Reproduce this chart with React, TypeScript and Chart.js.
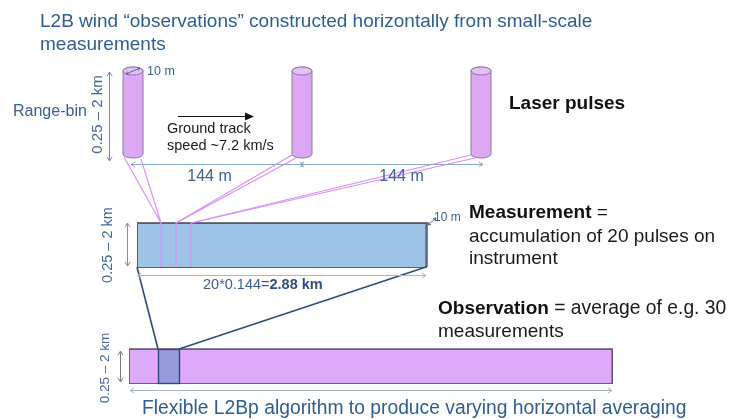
import React, { useEffect, useRef } from "react";
import { Chart, registerables } from "chart.js";

Chart.register(...registerables);

const W = 747;
const H = 419;

// ---- diagram values (layout units) ----
const pulseCenters = [133, 302, 481];
const pulseTopBottom = [67, 158];
const pulseWidth = 20;
const spacingLabels = ["144 m", "144 m"];
const spacingLabelShift = [-8, 10];
const measurementX = [137, 426];
const measurementY = [223, 267];
const pulseLanding = [161, 176, 191];
const observationX = [129, 612];
const observationY = [349, 383];
const observationMark = [158, 179];

const titleLines = [
  "L2B wind \u201cobservations\u201d constructed horizontally from small-scale",
  "measurements",
];
const rangeLabel = "0.25 \u2013 2 km";
const bottomText = "Flexible L2Bp algorithm to produce varying horizontal averaging";

const FONT = "'Liberation Sans', Arial, sans-serif";
const BLUE_TEXT = "#2f5e8e";
const PINK = "#d990f4";
const DARK_BLUE = "#2c4c7c";

type Pt = { x: number; y: number };

function seg(a: Pt, b: Pt, color: string, width: number) {
  return {
    data: [a, b],
    showLine: true,
    borderColor: color,
    borderWidth: width,
    pointRadius: 0,
    fill: false,
  };
}

function buildDatasets() {
  const ds: any[] = [];
  const bottom = pulseTopBottom[1];
  pulseCenters.forEach((cx, i) => {
    const land = { x: pulseLanding[i], y: measurementY[0] };
    if (i === 0) {
      ds.push(seg({ x: cx - pulseWidth / 2 + 1, y: bottom - 1 }, land, PINK, 1.2));
      ds.push(seg({ x: cx + pulseWidth / 2 - 2, y: bottom + 1 }, land, PINK, 1.2));
    } else {
      ds.push(seg({ x: cx - pulseWidth / 2, y: bottom - 3 }, land, PINK, 1.2));
      ds.push(seg({ x: cx - pulseWidth / 2 + 4, y: bottom }, land, PINK, 1.2));
    }
    ds.push(seg(land, { x: pulseLanding[i], y: measurementY[1] }, PINK, 1.2));
  });
  ds.push(
    seg({ x: measurementX[0], y: measurementY[1] }, { x: observationMark[0], y: observationY[0] }, DARK_BLUE, 1.6)
  );
  ds.push(
    seg({ x: measurementX[1], y: measurementY[1] }, { x: observationMark[1], y: observationY[0] }, DARK_BLUE, 1.6)
  );
  return ds;
}

function arrowHead(ctx: CanvasRenderingContext2D, x: number, y: number, ang: number, size: number) {
  ctx.beginPath();
  ctx.moveTo(x - size * Math.cos(ang - 0.55), y - size * Math.sin(ang - 0.55));
  ctx.lineTo(x, y);
  ctx.lineTo(x - size * Math.cos(ang + 0.55), y - size * Math.sin(ang + 0.55));
  ctx.stroke();
}

function arrow(
  ctx: CanvasRenderingContext2D,
  x1: number,
  y1: number,
  x2: number,
  y2: number,
  color: string,
  width: number,
  both: boolean,
  size = 5
) {
  ctx.save();
  ctx.strokeStyle = color;
  ctx.lineWidth = width;
  ctx.beginPath();
  ctx.moveTo(x1, y1);
  ctx.lineTo(x2, y2);
  ctx.stroke();
  const ang = Math.atan2(y2 - y1, x2 - x1);
  if (size > 0) arrowHead(ctx, x2, y2, ang, size);
  if (both && size > 0) arrowHead(ctx, x1, y1, ang + Math.PI, size);
  ctx.restore();
}

function text(
  ctx: CanvasRenderingContext2D,
  s: string,
  x: number,
  y: number,
  size: number,
  color: string,
  opts: { bold?: boolean; align?: CanvasTextAlign; rotate?: boolean; baseline?: CanvasTextBaseline } = {}
) {
  ctx.save();
  ctx.font = `${opts.bold ? "bold " : ""}${size}px ${FONT}`;
  ctx.fillStyle = color;
  ctx.textAlign = opts.align || "left";
  ctx.textBaseline = opts.baseline || "middle";
  if (opts.rotate) {
    ctx.translate(x, y);
    ctx.rotate(-Math.PI / 2);
    ctx.fillText(s, 0, 0);
  } else {
    ctx.fillText(s, x, y);
  }
  const w = ctx.measureText(s).width;
  ctx.restore();
  return w;
}

const diagramPlugin = {
  id: "diagram",
  beforeDatasetsDraw(chart: any) {
    const ctx: CanvasRenderingContext2D = chart.ctx;
    const sx = chart.scales.x;
    const sy = chart.scales.y;
    const px = (v: number) => sx.getPixelForValue(v);
    const py = (v: number) => sy.getPixelForValue(v);

    // cylinders (laser pulses)
    pulseCenters.forEach((c) => {
      const cx = px(c);
      const top = py(pulseTopBottom[0]);
      const bot = py(pulseTopBottom[1]);
      const rx = (px(c + pulseWidth / 2) - px(c - pulseWidth / 2)) / 2;
      const ry = 4;
      ctx.save();
      ctx.beginPath();
      ctx.moveTo(cx - rx, top + ry);
      ctx.lineTo(cx - rx, bot - ry);
      ctx.ellipse(cx, bot - ry, rx, ry, 0, Math.PI, 0, true);
      ctx.lineTo(cx + rx, top + ry);
      ctx.ellipse(cx, top + ry, rx, ry, 0, 0, Math.PI, true);
      ctx.closePath();
      ctx.fillStyle = "#dca8f5";
      ctx.fill();
      ctx.strokeStyle = "#8c7a98";
      ctx.lineWidth = 1;
      ctx.stroke();
      ctx.beginPath();
      ctx.ellipse(cx, top + ry, rx, ry, 0, 0, Math.PI * 2);
      ctx.fillStyle = "#e6bff8";
      ctx.fill();
      ctx.stroke();
      ctx.restore();
    });

    // measurement box
    {
      const x0 = px(measurementX[0]);
      const x1 = px(measurementX[1]);
      const y0 = py(measurementY[0]);
      const y1 = py(measurementY[1]);
      ctx.save();
      ctx.fillStyle = "#9dc3e6";
      ctx.fillRect(x0, y0, x1 - x0, y1 - y0);
      ctx.fillStyle = "#7b8794";
      ctx.fillRect(x1 - 1, y0, 3, y1 - y0);
      ctx.fillStyle = "#6d7580";
      ctx.fillRect(x0, y0 - 1, x1 - x0 + 2, 2);
      ctx.strokeStyle = "#55606c";
      ctx.lineWidth = 1;
      ctx.strokeRect(x0 + 0.5, y0 + 0.5, x1 - x0, y1 - y0);
      ctx.restore();
    }

    // observation bar
    {
      const x0 = px(observationX[0]);
      const x1 = px(observationX[1]);
      const y0 = py(observationY[0]);
      const y1 = py(observationY[1]);
      ctx.save();
      ctx.fillStyle = "#dfaaf9";
      ctx.fillRect(x0, y0, x1 - x0, y1 - y0);
      ctx.fillStyle = "#8d7b93";
      ctx.fillRect(x0, y0 - 1, x1 - x0 + 1, 2);
      ctx.fillRect(x1 - 1, y0, 2, y1 - y0);
      ctx.strokeStyle = "#6d5e75";
      ctx.lineWidth = 1;
      ctx.strokeRect(x0 + 0.5, y0 + 0.5, x1 - x0, y1 - y0);
      // marked measurement inside the observation
      const m0 = px(observationMark[0]);
      const m1 = px(observationMark[1]);
      ctx.fillStyle = "#989ade";
      ctx.fillRect(m0, y0, m1 - m0, y1 - y0);
      ctx.strokeStyle = DARK_BLUE;
      ctx.lineWidth = 1.4;
      ctx.strokeRect(m0 + 0.5, y0 + 0.5, m1 - m0, y1 - y0);
      ctx.restore();
    }
  },
  afterDatasetsDraw(chart: any) {
    const ctx: CanvasRenderingContext2D = chart.ctx;
    const sx = chart.scales.x;
    const sy = chart.scales.y;
    const px = (v: number) => sx.getPixelForValue(v);
    const py = (v: number) => sy.getPixelForValue(v);
    const pTop = py(pulseTopBottom[0]);
    const pBot = py(pulseTopBottom[1]);

    // title
    text(ctx, titleLines[0], 40, 27, 19, BLUE_TEXT, { baseline: "alphabetic" });
    text(ctx, titleLines[1], 40, 50, 19, BLUE_TEXT, { baseline: "alphabetic" });

    // range-bin arrow + labels
    arrow(ctx, 109.5, pTop + 5, 109.5, pBot + 3, "#6d8cb8", 1, true);
    text(ctx, rangeLabel, 98, (pTop + pBot) / 2 + 2, 15, "#46679a", { rotate: true, align: "center" });
    text(ctx, "Range-bin", 13, 112, 16, "#3a5f94");

    // 10 m on first pulse
    const c0 = px(pulseCenters[0]);
    arrow(ctx, c0 - 7, pTop + 7, c0 + 7, pTop + 1, "#4a6fa0", 1, true, 3);
    text(ctx, "10 m", c0 + 14, pTop + 5, 12.5, "#3a5f94");

    // ground track
    arrow(ctx, 178, 116.5, 250, 116.5, "#111", 1.2, false, 0);
    ctx.save();
    ctx.fillStyle = "#111";
    ctx.beginPath();
    ctx.moveTo(254, 116.5);
    ctx.lineTo(245, 112.5);
    ctx.lineTo(245, 120.5);
    ctx.closePath();
    ctx.fill();
    ctx.restore();
    text(ctx, "Ground track", 167, 129, 14.5, "#1a1a1a");
    text(ctx, "speed ~7.2 km/s", 167, 146, 14.5, "#1a1a1a");

    text(ctx, "Laser pulses", 509, 104, 19, "#111", { bold: true });

    // 144 m spacing arrows
    for (let i = 0; i < pulseCenters.length - 1; i++) {
      const a = px(pulseCenters[i]);
      const b = px(pulseCenters[i + 1]);
      arrow(ctx, a - 2, 164.5, b + 2, 164.5, "#8ea6c6", 1, true, 5);
      text(ctx, spacingLabels[i], (a + b) / 2 + spacingLabelShift[i], 177, 16, "#3d6196", { align: "center" });
    }

    // measurement annotations
    const mx0 = px(measurementX[0]);
    const mx1 = px(measurementX[1]);
    const my0 = py(measurementY[0]);
    const my1 = py(measurementY[1]);
    arrow(ctx, 127.5, my0, 127.5, my1 - 1, "#8a9099", 1, true, 5);
    text(ctx, rangeLabel, 108, (my0 + my1) / 2, 14.5, "#46679a", { rotate: true, align: "center" });
    arrow(ctx, mx0, 275.5, mx1, 275.5, "#a3b5cf", 1, true, 5);
    ctx.save();
    ctx.font = `14.5px ${FONT}`;
    const w1 = ctx.measureText("20*0.144=").width;
    ctx.restore();
    text(ctx, "20*0.144=", 203, 285, 14.5, "#3d5f90");
    text(ctx, "2.88 km", 203 + w1, 285, 14.5, "#2f4f80", { bold: true });
    arrow(ctx, mx1 + 2, my0 + 2, mx1 + 10, my0 - 5, "#4a6fa0", 1, true, 3);
    text(ctx, "10 m", mx1 + 8, my0 - 5, 12, "#3a5f94");

    const wb = text(ctx, "Measurement", 469, 213, 19, "#111", { bold: true });
    text(ctx, " =", 469 + wb, 213, 19, "#111");
    text(ctx, "accumulation of 20 pulses on", 469, 237, 19, "#1a1a1a");
    text(ctx, "instrument", 469, 259, 19, "#1a1a1a");

    const wo = text(ctx, "Observation", 438, 309, 19, "#111", { bold: true });
    text(ctx, " = average of e.g. 30", 438 + wo, 309, 19.3, "#1a1a1a");
    text(ctx, "measurements", 438, 332, 19, "#1a1a1a");

    // observation annotations
    const ox0 = px(observationX[0]);
    const ox1 = px(observationX[1]);
    const oy0 = py(observationY[0]);
    const oy1 = py(observationY[1]);
    arrow(ctx, 120.5, oy0 + 2, 120.5, oy1 - 1, "#7a7f86", 1, true, 5);
    text(ctx, rangeLabel, 105, 368, 13.5, "#46679a", { rotate: true, align: "center" });
    arrow(ctx, ox0 + 1, 390.5, ox1, 390.5, "#a3b5cf", 1, true, 5);
    text(ctx, bottomText, 142, 409, 19.3, BLUE_TEXT);
  },
};

export default function App() {
  const ref = useRef<HTMLCanvasElement | null>(null);
  useEffect(() => {
    document.body.style.margin = "0";
    document.body.style.overflow = "hidden";
    if (!ref.current) return;
    const chart = new Chart(ref.current, {
      type: "scatter",
      data: { datasets: buildDatasets() },
      options: {
        animation: false,
        responsive: false,
        events: [],
        layout: { padding: 0 },
        plugins: { legend: { display: false }, tooltip: { enabled: false }, title: { display: false } },
        scales: {
          x: { type: "linear", min: 0, max: W, display: false },
          y: { type: "linear", min: 0, max: H, reverse: true, display: false },
        },
      },
      plugins: [diagramPlugin],
    } as any);
    return () => chart.destroy();
  }, []);
  return (
    <div style={{ position: "fixed", left: 0, top: 0, width: W, height: H, background: "#fff" }}>
      <canvas ref={ref} width={W} height={H} style={{ display: "block" }} />
    </div>
  );
}
